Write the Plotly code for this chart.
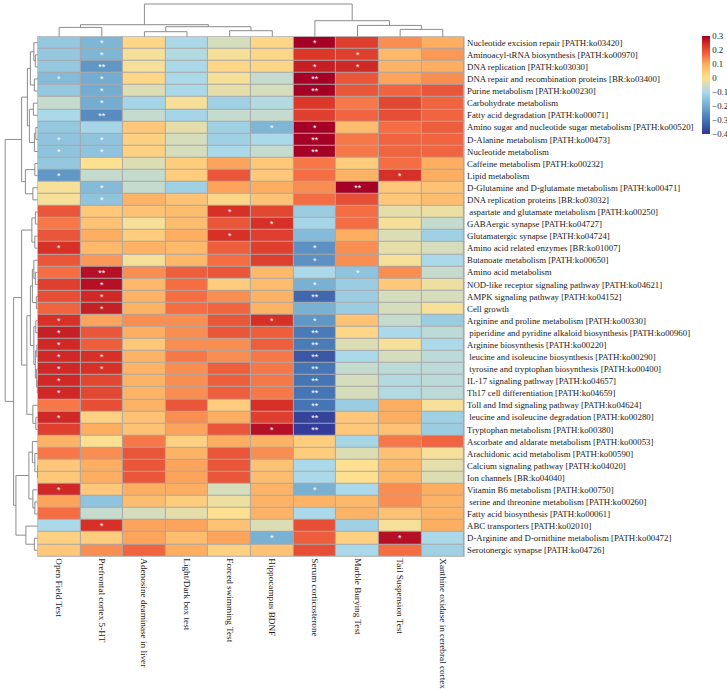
import plotly.graph_objects as go

# ---------------- data ----------------
col_labels = ["Open Field Test", "Prefrontal cortex 5-HT", "Adenosine deaminase in liver",
              "Light/Dark box test", "Forced swimming Test", "Hippocampus BDNF",
              "Serum corticosterone", "Marble Burying Test", "Tail Suspension Test",
              "Xanthine oxidase in cerebral cortex"]

row_labels = [
    "Nucleotide excision repair [PATH:ko03420]",
    "Aminoacyl-tRNA biosynthesis [PATH:ko00970]",
    "DNA replication [PATH:ko03030]",
    "DNA repair and recombination proteins [BR:ko03400]",
    "Purine metabolism [PATH:ko00230]",
    "Carbohydrate metabolism",
    "Fatty acid degradation [PATH:ko00071]",
    "Amino sugar and nucleotide sugar metabolism [PATH:ko00520]",
    "D-Alanine metabolism [PATH:ko00473]",
    "Nucleotide metabolism",
    "Caffeine metabolism [PATH:ko00232]",
    "Lipid metabolism",
    "D-Glutamine and D-glutamate metabolism [PATH:ko00471]",
    "DNA replication proteins [BR:ko03032]",
    " aspartate and glutamate metabolism [PATH:ko00250]",
    "GABAergic synapse [PATH:ko04727]",
    "Glutamatergic synapse [PATH:ko04724]",
    "Amino acid related enzymes [BR:ko01007]",
    "Butanoate metabolism [PATH:ko00650]",
    "Amino acid metabolism",
    "NOD-like receptor signaling pathway [PATH:ko04621]",
    "AMPK signaling pathway [PATH:ko04152]",
    "Cell growth",
    "Arginine and proline metabolism [PATH:ko00330]",
    " piperidine and pyridine alkaloid biosynthesis [PATH:ko00960]",
    "Arginine biosynthesis [PATH:ko00220]",
    " leucine and isoleucine biosynthesis [PATH:ko00290]",
    " tyrosine and tryptophan biosynthesis [PATH:ko00400]",
    "IL-17 signaling pathway [PATH:ko04657]",
    "Th17 cell differentiation [PATH:ko04659]",
    "Toll and Imd signaling pathway [PATH:ko04624]",
    " leucine and isoleucine degradation [PATH:ko00280]",
    "Tryptophan metabolism [PATH:ko00380]",
    "Ascorbate and aldarate metabolism [PATH:ko00053]",
    "Arachidonic acid metabolism [PATH:ko00590]",
    "Calcium signaling pathway [PATH:ko04020]",
    "Ion channels [BR:ko04040]",
    "Vitamin B6 metabolism [PATH:ko00750]",
    " serine and threonine metabolism [PATH:ko00260]",
    "Fatty acid biosynthesis [PATH:ko00061]",
    "ABC transporters [PATH:ko02010]",
    "D-Arginine and D-ornithine metabolism [PATH:ko00472]",
    "Serotonergic synapse [PATH:ko04726]",
]

values = [
    [-0.14, -0.18, 0.02, -0.10, -0.05, 0.02, 0.30, 0.22, 0.13, 0.10],
    [-0.14, -0.18, -0.01, -0.09, -0.01, 0.02, 0.23, 0.22, 0.08, 0.12],
    [-0.14, -0.24, -0.01, -0.10, 0.02, 0.02, 0.26, 0.25, 0.09, 0.10],
    [-0.17, -0.20, 0.02, -0.10, -0.01, -0.07, 0.30, 0.19, 0.11, 0.13],
    [-0.14, -0.20, -0.04, -0.10, -0.03, -0.05, 0.30, 0.19, 0.17, 0.19],
    [-0.07, -0.20, -0.11, -0.01, -0.12, -0.09, 0.23, 0.15, 0.21, 0.17],
    [-0.10, -0.26, -0.07, -0.11, -0.07, -0.07, 0.22, 0.17, 0.20, 0.17],
    [-0.14, -0.11, 0.05, -0.03, -0.12, -0.18, 0.30, 0.07, 0.16, 0.18],
    [-0.15, -0.15, 0.03, -0.05, -0.12, -0.10, 0.30, 0.15, 0.17, 0.17],
    [-0.15, -0.15, 0.03, -0.05, -0.10, -0.07, 0.30, 0.15, 0.17, 0.17],
    [-0.14, 0.00, -0.04, 0.04, 0.11, 0.05, 0.15, 0.04, 0.16, 0.10],
    [-0.24, -0.07, -0.07, 0.04, 0.19, 0.05, 0.16, 0.09, 0.24, 0.10],
    [-0.01, -0.17, -0.07, -0.12, 0.11, 0.10, 0.13, 0.30, 0.05, 0.06],
    [-0.01, -0.15, 0.09, 0.06, 0.02, 0.06, 0.16, 0.20, 0.05, 0.07],
    [0.19, 0.05, 0.06, 0.07, 0.24, 0.21, -0.13, 0.16, -0.03, -0.02],
    [0.15, 0.06, -0.01, 0.07, 0.19, 0.24, -0.11, 0.16, -0.01, -0.07],
    [0.19, 0.10, 0.04, 0.10, 0.24, 0.22, -0.17, 0.10, -0.04, -0.12],
    [0.24, 0.08, 0.09, 0.08, 0.18, 0.22, -0.25, 0.13, -0.03, -0.05],
    [0.19, 0.12, -0.01, 0.08, 0.16, 0.22, -0.25, 0.13, -0.01, -0.10],
    [0.16, 0.28, 0.13, 0.18, 0.19, 0.08, -0.10, -0.15, 0.13, -0.07],
    [0.22, 0.28, 0.08, 0.16, 0.04, 0.07, -0.19, -0.13, 0.05, -0.02],
    [0.20, 0.25, 0.09, 0.16, 0.13, 0.09, -0.32, -0.13, -0.05, -0.05],
    [0.17, 0.26, 0.09, 0.16, 0.17, 0.09, -0.19, -0.13, -0.05, -0.01],
    [0.24, 0.11, 0.13, 0.13, 0.19, 0.24, -0.24, 0.06, -0.07, -0.13],
    [0.26, 0.19, 0.10, 0.13, 0.19, 0.18, -0.29, 0.02, -0.10, -0.08],
    [0.25, 0.18, 0.05, 0.13, 0.13, 0.18, -0.29, -0.04, -0.01, -0.10],
    [0.25, 0.24, 0.09, 0.15, 0.13, 0.15, -0.35, -0.10, -0.05, -0.08],
    [0.25, 0.24, 0.09, 0.13, 0.18, 0.15, -0.30, -0.07, -0.08, -0.08],
    [0.25, 0.21, 0.09, 0.13, 0.18, 0.15, -0.30, -0.05, -0.09, -0.08],
    [0.25, 0.21, 0.09, 0.13, 0.18, 0.15, -0.30, -0.05, -0.09, -0.08],
    [0.15, 0.20, 0.09, 0.19, 0.04, 0.24, -0.30, -0.13, 0.10, -0.01],
    [0.25, 0.03, 0.06, 0.13, 0.10, 0.22, -0.38, 0.05, 0.10, -0.12],
    [0.22, 0.10, 0.06, 0.11, 0.19, 0.28, -0.39, 0.05, 0.06, -0.13],
    [0.09, 0.00, 0.15, 0.03, 0.10, 0.09, 0.04, -0.11, 0.15, 0.17],
    [0.15, 0.13, 0.19, 0.09, 0.19, 0.13, 0.04, -0.04, 0.06, -0.01],
    [0.05, 0.10, 0.19, 0.11, 0.19, 0.06, -0.10, 0.00, 0.08, -0.03],
    [0.05, 0.10, 0.19, 0.11, 0.19, 0.07, -0.10, 0.00, 0.08, -0.04],
    [0.25, 0.05, 0.10, 0.10, -0.05, 0.09, -0.19, -0.10, 0.13, 0.10],
    [0.11, -0.15, 0.07, 0.04, -0.02, 0.09, 0.09, 0.08, 0.13, 0.09],
    [0.16, -0.07, -0.05, -0.03, 0.00, 0.09, -0.10, 0.09, 0.06, 0.09],
    [-0.10, 0.24, 0.11, 0.11, 0.06, -0.04, 0.20, -0.12, -0.01, 0.10],
    [0.03, 0.04, 0.11, 0.07, 0.11, -0.19, 0.18, 0.03, 0.28, -0.10],
    [0.05, 0.13, 0.17, 0.10, 0.03, 0.06, 0.20, -0.10, 0.16, -0.12],
]

# significance marks per row: '.' none, '1' = *, '2' = **
star_codes = [
    ".1....1...", ".1.....1..", ".2....11..", "11....2...", ".1....2...",
    ".1........", ".2........", ".....11...", "11....2...", "11....2...",
    "..........", "1.......1.", ".1.....2..", ".1........", "....1.....",
    ".....1....", "....1.....", "1.....1...", "......1...", ".2.....1..",
    ".1....1...", ".1....2...", ".1........", "1....11...", "1.....2...",
    "1.....2...", "11....2...", "11....2...", "1.....2...", "1.....2...",
    "......2...", "1.....2...", ".....12...", "..........", "..........",
    "..........", "..........", "1.....1...", "..........", "..........",
    ".1........", ".....1..1.", "..........",
]

# dendrograms: [left, right, height]; leaves are indices
col_tree = [[[0, 1, 9.3], [[2, 3, 5.0], [4, 5, 6.0], 10.0], 12.0],
            [6, [7, [8, 9, 7.3], 11.3], 16.0], 32.7]

row_tree = [
    [  # top block
        [[[0, [1, 2, 2.5], 4.0], [3, 4, 3.5], 7.5],
         [[5, 6, 4.5], [[7, 8, 2.0], 9, 3.5], 8.5], 10.5],
        [[10, 11, 3.0], [12, 13, 5.0], 12.5],
        16.3],
    [  # rest
        [[[14, 15, 2.5], [16, 17, 3.0], 6.0],
         [[[[18, [19, 20, 2.5], 4.0], [21, 22, 1.5], 5.5],
           [[23, 24, 2.0], [[25, 26, 1.0], [27, [28, 29, 0.5], 1.2], 2.5], 4.0], 7.5],
          [30, [31, 32, 2.0], 5.0], 11.0],
         16.3],
        [[[33, [34, [35, 36, 0.4], 3.0], 5.5], [37, [38, 39, 3.0], 5.0], 9.0],
         [40, [41, 42, 3.5], 12.0], 22.0],
        24.3],
    32.8]

# ---------------- figure ----------------
W, H = 727, 689
HX0, HX1 = 38, 466
HY0, HY1 = 36.7, 556.3
nrow, ncol = len(row_labels), len(col_labels)

stars = [["" if c == "." else "*" * int(c) for c in s] for s in star_codes]

zmin, zmax = -0.4, 0.3
stops = [(-0.4, "#313695"), (-0.3, "#4575b4"), (-0.2, "#74add1"), (-0.1, "#abd9e9"),
         (0.0, "#fee090"), (0.1, "#fdae61"), (0.16, "#f46d43"), (0.24, "#d73027"),
         (0.3, "#a50026")]
colorscale = [[(v - zmin) / (zmax - zmin), c] for v, c in stops]


def dendro_segments(node):
    """returns (position, height, xs, ys) for a tree node"""
    if isinstance(node, int):
        return float(node), 0.0, [], []
    l, r, h = node
    pl, hl, xl, yl = dendro_segments(l)
    pr, hr, xr, yr = dendro_segments(r)
    xs = xl + xr + [pl, pl, pr, pr, None]
    ys = yl + yr + [hl, h, h, hr, None]
    return (pl + pr) / 2, h, xs, ys


fig = go.Figure()

row_font = dict(family="Liberation Serif", size=8.8, color="#1a1a1a")
col_font = dict(family="Liberation Serif", size=9.2, color="#1a1a1a")

fig.add_trace(go.Heatmap(
    z=values, x=list(range(ncol)), y=list(range(nrow)),
    text=stars, texttemplate="%{text}",
    textfont=dict(color="white", size=9, family="Liberation Sans"),
    colorscale=colorscale, zmin=zmin, zmax=zmax,
    xgap=1, ygap=1, hoverinfo="skip",
    colorbar=dict(
        x=705 / W, xanchor="left", y=1 - 36 / H, yanchor="top",
        len=98 / H, lenmode="fraction", thickness=8, thicknessmode="pixels",
        outlinewidth=0, tickvals=[0.3, 0.2, 0.1, 0, -0.1, -0.2, -0.3, -0.4],
        ticktext=["0.3", "0.2", "0.1", "0", "\u22120.1", "\u22120.2", "\u22120.3", "\u22120.4"],
        ticks="", ticklabelposition="outside", tickfont=row_font,
        ypad=0, xpad=0,
    ),
))

_, _, cx, cy = dendro_segments(col_tree)
fig.add_trace(go.Scatter(x=cx, y=cy, mode="lines", xaxis="x2", yaxis="y2",
                         line=dict(color="#8c8c8c", width=1), hoverinfo="skip",
                         showlegend=False))
_, _, ry, rx = dendro_segments(row_tree)
fig.add_trace(go.Scatter(x=rx, y=ry, mode="lines", xaxis="x3", yaxis="y3",
                         line=dict(color="#8c8c8c", width=1), hoverinfo="skip",
                         showlegend=False))

hm_xdom = [HX0 / W, HX1 / W]
hm_ydom = [1 - HY1 / H, 1 - HY0 / H]

fig.update_layout(
    width=W, height=H, margin=dict(l=0, r=0, t=0, b=0),
    paper_bgcolor="white", plot_bgcolor="rgba(0,0,0,0)", showlegend=False,
    xaxis=dict(domain=hm_xdom, range=[-0.5, ncol - 0.5], tickvals=list(range(ncol)),
               ticktext=col_labels, tickangle=90, ticks="", showgrid=False,
               zeroline=False, showline=False, tickfont=col_font, anchor="y",
               ticklabelstandoff=1),
    yaxis=dict(domain=hm_ydom, range=[nrow - 0.5, -0.5], tickvals=list(range(nrow)),
               ticktext=row_labels, side="right", ticks="", showgrid=False,
               zeroline=False, showline=False, tickfont=row_font, anchor="x",
               ticklabelstandoff=2),
    xaxis2=dict(domain=hm_xdom, range=[-0.5, ncol - 0.5], visible=False, anchor="y2"),
    yaxis2=dict(domain=[1 - HY0 / H, 1], range=[0, HY0], visible=False, anchor="x2"),
    xaxis3=dict(domain=[0, HX0 / W], range=[HX0, 0], visible=False, anchor="y3"),
    yaxis3=dict(domain=hm_ydom, range=[nrow - 0.5, -0.5], visible=False, anchor="x3"),
    shapes=[dict(type="rect", xref="paper", yref="paper", layer="below",
                 x0=(HX0 - 0.5) / W, x1=(HX1 + 0.5) / W,
                 y0=1 - (HY1 + 0.5) / H, y1=1 - (HY0 - 0.5) / H,
                 fillcolor="#a8a8a8", line=dict(width=0))],
)

fig.write_html("out.html", config={"displayModeBar": False},
               post_script="document.body.style.margin='0';document.body.style.overflow='hidden';")
